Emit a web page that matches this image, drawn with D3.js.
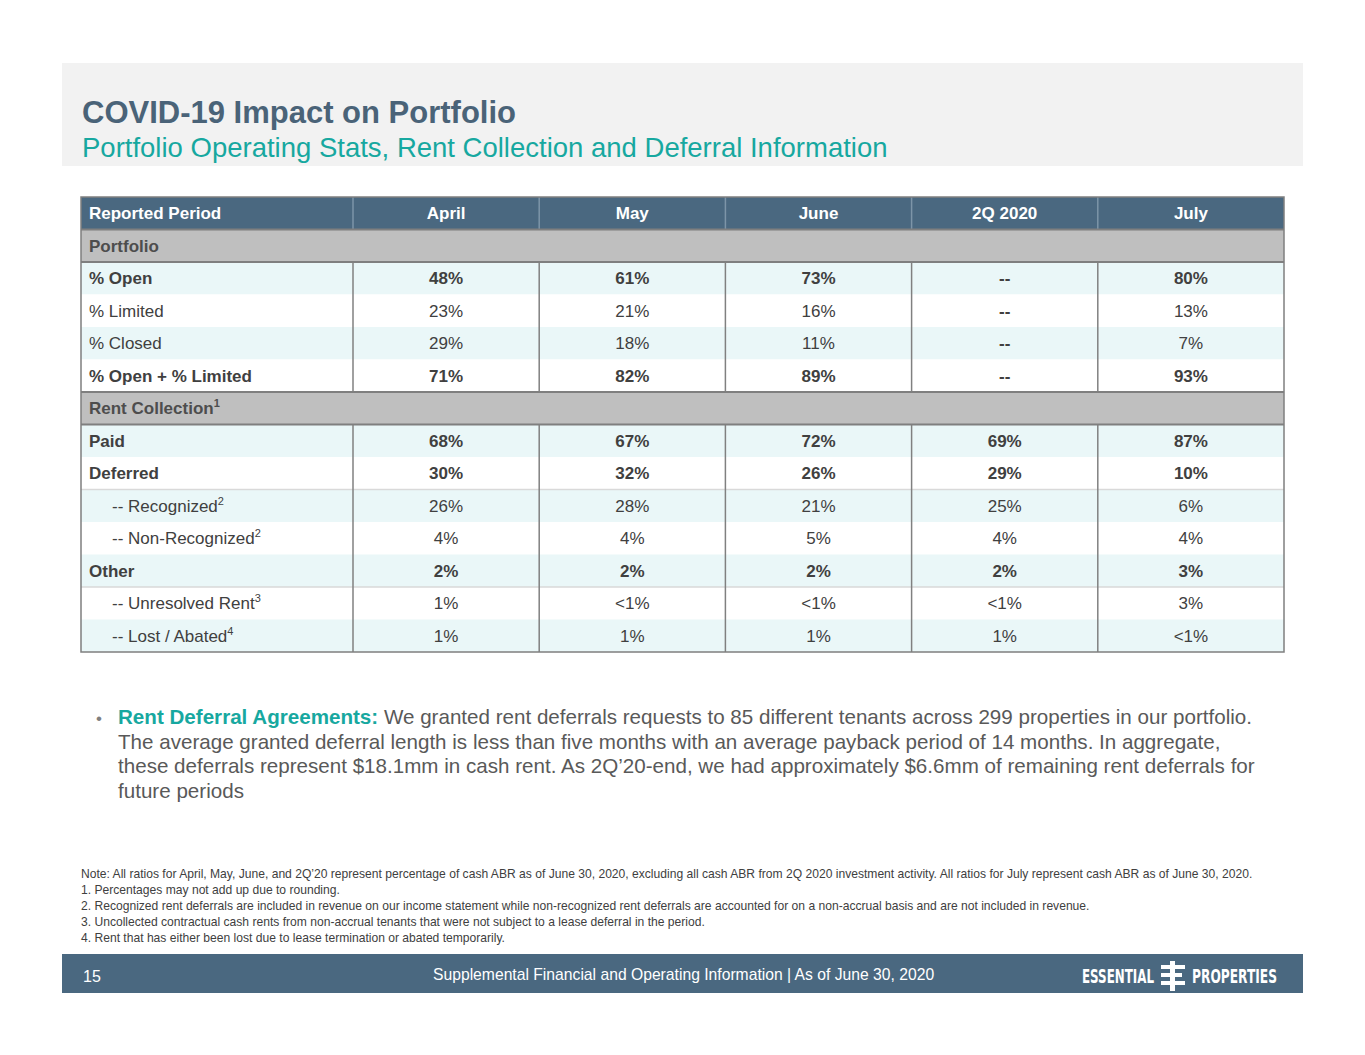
<!DOCTYPE html>
<html>
<head>
<meta charset="utf-8">
<script src="https://cdn.jsdelivr.net/npm/d3@7"></script>
<style>
  body { margin: 0; background: #fff; }
  svg { display: block; font-family: "Liberation Sans", Arial, sans-serif; }
</style>
</head>
<body>
<svg id="slide" width="1365" height="1055"></svg>
<script>
// table data
var periods   = ["April", "May", "June", "2Q 2020", "July"];
var rowLabels = ["Portfolio", "% Open", "% Limited", "% Closed", "% Open + % Limited",
                 "Rent Collection", "Paid", "Deferred", "-- Recognized", "-- Non-Recognized",
                 "Other", "-- Unresolved Rent", "-- Lost / Abated"];
var rowNotes  = ["", "", "", "", "", "1", "", "", "2", "2", "", "3", "4"];
var april = [null, "48%", "23%", "29%", "71%", null, "68%", "30%", "26%", "4%", "2%", "1%", "1%"];
var may   = [null, "61%", "21%", "18%", "82%", null, "67%", "32%", "28%", "4%", "2%", "<1%", "1%"];
var june  = [null, "73%", "16%", "11%", "89%", null, "72%", "26%", "21%", "5%", "2%", "<1%", "1%"];
var q2    = [null, "--", "--", "--", "--", null, "69%", "29%", "25%", "4%", "2%", "<1%", "1%"];
var july  = [null, "80%", "13%", "7%", "93%", null, "87%", "10%", "6%", "4%", "3%", "3%", "<1%"];
var series = [april, may, june, q2, july];

var sectionRows = ["Portfolio", "Rent Collection"];
var boldRows = ["% Open", "% Open + % Limited", "Paid", "Deferred", "Other"];

var footnotes = [
  "Note: All ratios for April, May, June, and 2Q\u201920 represent percentage of cash ABR as of June 30, 2020, excluding all cash ABR from 2Q 2020 investment activity. All ratios for July represent cash ABR as of June 30, 2020.",
  "1.  Percentages may not add up due to rounding.",
  "2.  Recognized rent deferrals are included in revenue on our income statement while non-recognized rent deferrals are accounted for on a non-accrual basis and are not included in revenue.",
  "3.  Uncollected contractual cash rents from non-accrual tenants that were not subject to a lease deferral in the period.",
  "4.  Rent that has either been lost due to lease termination or abated temporarily."
];
var bulletLines = [
  "We granted rent deferrals requests to 85 different tenants across 299 properties in our portfolio.",
  "The average granted deferral length is less than five months with an average payback period of 14 months. In aggregate,",
  "these deferrals represent $18.1mm in cash rent. As 2Q\u201920-end, we had approximately $6.6mm of remaining rent deferrals for",
  "future periods"
];

var navy = "#4a6880", teal = "#17a8a0", ink = "#404040";
var svg = d3.select("#slide");

// title band
svg.append("rect").attr("x", 62).attr("y", 63).attr("width", 1241).attr("height", 103).attr("fill", "#f2f2f2");
svg.append("text").attr("x", 82).attr("y", 123).attr("font-size", 31).attr("font-weight", "bold")
  .attr("fill", "#4a6378").text("COVID-19 Impact on Portfolio");
svg.append("text").attr("x", 82).attr("y", 157).attr("font-size", 27.5)
  .attr("fill", teal).text("Portfolio Operating Stats, Rent Collection and Deferral Information");

// table scales
var allRows = ["Reported Period"].concat(rowLabels);
var y = d3.scaleBand().domain(d3.range(allRows.length)).range([197, 652]);
var x = d3.scaleBand().domain(periods).range([353, 1284]);
var left = 81, right = 1284;

var table = svg.append("g");

// row backgrounds
table.selectAll("rect.row").data(allRows).enter().append("rect")
  .attr("x", left).attr("width", right - left)
  .attr("y", function(d, i) { return y(i); }).attr("height", y.bandwidth())
  .attr("fill", function(d, i) {
    if (i === 0) return navy;
    if (sectionRows.indexOf(d) >= 0) return "#bfbfbf";
    var k = i < 6 ? i - 2 : i - 7;
    return k % 2 === 0 ? "#eaf7f8" : "#ffffff";
  });

// light separators
[8, 11].forEach(function(i) {
  table.append("line").attr("x1", left).attr("x2", right)
    .attr("y1", y(i) + y.bandwidth()).attr("y2", y(i) + y.bandwidth())
    .attr("stroke", "#d9d9d9").attr("stroke-width", 1.5);
});

// vertical column lines
var colEdges = [353].concat(periods.slice(1).map(function(p) { return x(p); }));
colEdges.forEach(function(cx) {
  table.append("line").attr("x1", cx).attr("x2", cx).attr("y1", y(0)).attr("y2", y(0) + y.bandwidth())
    .attr("stroke", "#7d95a8").attr("stroke-width", 1.5);
  [[2, 5], [7, 13]].forEach(function(r) {
    table.append("line").attr("x1", cx).attr("x2", cx)
      .attr("y1", y(r[0])).attr("y2", y(r[1]) + y.bandwidth())
      .attr("stroke", "#808080").attr("stroke-width", 1.5);
  });
});

// section borders
[1, 2, 6, 7].forEach(function(i) {
  table.append("line").attr("x1", left).attr("x2", right).attr("y1", y(i)).attr("y2", y(i))
    .attr("stroke", "#7f7f7f").attr("stroke-width", 2);
});
table.append("rect").attr("x", left).attr("y", 197).attr("width", right - left).attr("height", 652 - 197)
  .attr("fill", "none").attr("stroke", "#7f7f7f").attr("stroke-width", 1.5);

// row labels
var labels = table.selectAll("text.label").data(allRows).enter().append("text")
  .attr("x", function(d) { return d.indexOf("--") === 0 ? 112 : 89; })
  .attr("y", function(d, i) { return y(i) + y.bandwidth() / 2 + 6; })
  .attr("font-size", 17)
  .attr("font-weight", function(d, i) {
    return (i === 0 || sectionRows.indexOf(d) >= 0 || boldRows.indexOf(d) >= 0) ? "bold" : "normal";
  })
  .attr("fill", function(d, i) {
    if (i === 0) return "#fff";
    return sectionRows.indexOf(d) >= 0 ? "#4d4d4d" : ink;
  });
labels.append("tspan").text(function(d) { return d; });
labels.append("tspan").attr("font-size", 11).attr("dy", -7)
  .text(function(d, i) { return i > 0 ? rowNotes[i - 1] : ""; });

// header period labels
table.selectAll("text.head").data(periods).enter().append("text")
  .attr("x", function(d) { return x(d) + x.bandwidth() / 2; })
  .attr("y", y(0) + y.bandwidth() / 2 + 6)
  .attr("text-anchor", "middle").attr("font-size", 17).attr("font-weight", "bold")
  .attr("fill", "#fff").text(function(d) { return d; });

// values
series.forEach(function(vals, c) {
  table.selectAll(null).data(vals).enter()
    .append("text")
    .attr("x", x(periods[c]) + x.bandwidth() / 2)
    .attr("y", function(d, i) { return y(i + 1) + y.bandwidth() / 2 + 6; })
    .attr("text-anchor", "middle").attr("font-size", 17)
    .attr("font-weight", function(d, i) {
      return (boldRows.indexOf(rowLabels[i]) >= 0 || d === "--") ? "bold" : "normal";
    })
    .attr("fill", ink).text(function(d) { return d === null ? "" : d; });
});

// bullet paragraph
svg.append("text").attr("x", 96).attr("y", 724).attr("font-size", 17).attr("fill", "#7f7f7f").text("\u2022");
var para = svg.append("text").attr("font-size", 20.6).attr("fill", "#595959");
bulletLines.forEach(function(line, i) {
  var t = para.append("tspan").attr("x", 118).attr("y", 724 + i * 24.7);
  if (i === 0) {
    t.append("tspan").attr("font-weight", "bold").attr("fill", teal).text("Rent Deferral Agreements: ");
  }
  t.append("tspan").text(line);
});

// footnotes
svg.selectAll("text.note").data(footnotes).enter().append("text")
  .attr("x", 81).attr("y", function(d, i) { return 878 + i * 16; })
  .attr("font-size", 12.1).attr("fill", ink).text(function(d) { return d; });

// footer band
svg.append("rect").attr("x", 62).attr("y", 954).attr("width", 1241).attr("height", 39).attr("fill", navy);
svg.append("text").attr("x", 83).attr("y", 982).attr("font-size", 16).attr("fill", "#fff").text("15");
svg.append("text").attr("x", 433).attr("y", 980).attr("font-size", 15.7).attr("fill", "#fff")
  .text("Supplemental Financial and Operating Information |  As of June 30, 2020");

// logo
var logo = svg.append("g").attr("fill", "#fff")
  .attr("font-family", "'Liberation Sans Narrow', 'DejaVu Sans Condensed', sans-serif")
  .attr("font-weight", "bold").attr("font-size", 20);
logo.append("text").attr("x", 1082).attr("y", 983).attr("textLength", 72)
  .attr("lengthAdjust", "spacingAndGlyphs").text("ESSENTIAL");
logo.append("text").attr("x", 1192).attr("y", 983).attr("textLength", 85)
  .attr("lengthAdjust", "spacingAndGlyphs").text("PROPERTIES");
logo.append("rect").attr("x", 1170).attr("y", 961).attr("width", 5).attr("height", 30);
[965, 973, 981].forEach(function(by, i) {
  logo.append("rect").attr("x", 1161).attr("y", by).attr("width", i === 1 ? 21 : 24).attr("height", 4);
});
</script>
</body>
</html>
